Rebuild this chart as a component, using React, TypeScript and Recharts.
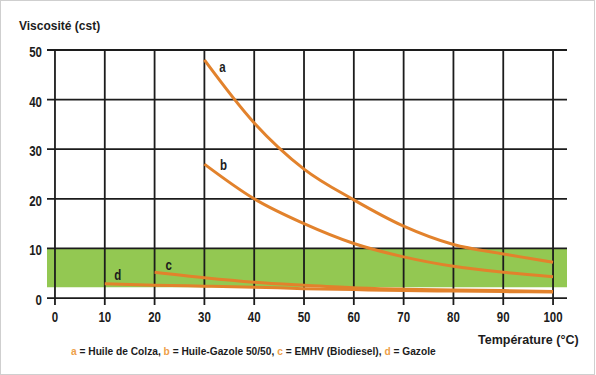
import { LineChart, Line, XAxis, YAxis, ReferenceArea, ReferenceLine } from "recharts"

const temperatures = [10, 20, 30, 40, 50, 60, 70, 80, 90, 100]
const huileColza = [null, null, 48, 35.3, 26, 19.8, 14.5, 10.8, 8.9, 7.2]
const huileGazole = [null, null, 27, 20, 15, 11, 8.3, 6.4, 5.2, 4.3]
const emhv = [null, 5.2, 4.1, 3.2, 2.6, 2.1, 1.8, 1.6, 1.5, 1.3]
const gazole = [2.9, 2.6, 2.4, 2.2, 1.9, 1.7, 1.5, 1.4, 1.3, 1.2]

const xTicks = [0, 10, 20, 30, 40, 50, 60, 70, 80, 90, 100]
const yTicks = [0, 10, 20, 30, 40, 50]
const zoneLow = 2.2
const zoneHigh = 10

const chartData = temperatures.map((t, i) => ({
  t,
  a: huileColza[i],
  b: huileGazole[i],
  c: emhv[i],
  d: gazole[i],
}))

const series = [
  { key: "a", dx: 18, dy: 12 },
  { key: "b", dx: 19, dy: 6 },
  { key: "c", dx: 14, dy: -2 },
  { key: "d", dx: 13, dy: -4 },
]

const SANS = "'Liberation Sans', Arial, sans-serif"
const ORANGE = "#e2822c"
const INK = "#1c1c1c"

function firstIndex(key: string) {
  return chartData.findIndex((row: any) => row[key] != null)
}

// narrow bold text, like the condensed face of the original
function NarrowText({ x, y, anchor, children }: any) {
  return (
    <text
      transform={`translate(${x},${y}) scale(0.82,1)`}
      textAnchor={anchor}
      fontFamily={SANS}
      fontWeight="bold"
      fontSize={14}
      fill={INK}
    >
      {children}
    </text>
  )
}

function XTick(props: any) {
  const { x, y, payload } = props
  return (
    <NarrowText x={x} y={y + 17} anchor="middle">
      {payload.value}
    </NarrowText>
  )
}

function YTick(props: any) {
  const { x, y, payload } = props
  return (
    <NarrowText x={x - 5} y={y + 7} anchor="end">
      {payload.value}
    </NarrowText>
  )
}

export default function App() {
  return (
    <div style={{ position: "absolute", left: 0, top: 0, width: 596, height: 375, background: "#fff" }}>
      <div
        style={{
          position: "absolute",
          left: 0,
          top: 0,
          width: 593,
          height: 373,
          border: "1px solid #cfcfcf",
        }}
      />
      <LineChart width={596} height={375} data={chartData} margin={{ top: 50, right: 29, left: 0, bottom: 40 }}>
        <XAxis
          dataKey="t"
          type="number"
          domain={[-1.6, 102.8]}
          allowDataOverflow
          ticks={xTicks}
          tick={<XTick />}
          tickSize={0}
          tickMargin={0}
          axisLine={false}
          tickLine={false}
          height={30}
        />
        <YAxis
          type="number"
          domain={[-1.4, 50]}
          allowDataOverflow
          ticks={yTicks}
          tick={<YTick />}
          tickSize={0}
          tickMargin={0}
          axisLine={false}
          tickLine={false}
          width={47}
        />
        <ReferenceArea x1={-1.6} x2={102.8} y1={zoneLow} y2={zoneHigh} fill="#93c852" fillOpacity={1} stroke="none" />
        {xTicks.map((v) => (
          <ReferenceLine key={"x" + v} x={v} stroke={INK} strokeWidth={1.8} />
        ))}
        {yTicks.map((v) => (
          <ReferenceLine key={"y" + v} y={v} stroke={INK} strokeWidth={1.8} />
        ))}
        {series.map((s) => {
          const first = firstIndex(s.key)
          return (
            <Line
              key={s.key}
              dataKey={s.key}
              type="monotone"
              stroke={ORANGE}
              strokeWidth={3}
              isAnimationActive={false}
              activeDot={false}
              dot={(p: any) =>
                p.index === first ? (
                  <g key={s.key + "-lbl"}>
                    <NarrowText x={p.cx + s.dx} y={p.cy + s.dy} anchor="middle">
                      {s.key}
                    </NarrowText>
                  </g>
                ) : (
                  <g key={s.key + "-" + p.index} />
                )
              }
            />
          )
        })}
      </LineChart>
      <div
        style={{
          position: "absolute",
          left: 19,
          top: 20,
          fontFamily: SANS,
          fontWeight: "bold",
          fontSize: 12,
          lineHeight: "12px",
          color: INK,
          whiteSpace: "nowrap",
        }}
      >
        Viscosité (cst)
      </div>
      <div
        style={{
          position: "absolute",
          left: 478,
          top: 334,
          fontFamily: SANS,
          fontWeight: "bold",
          fontSize: 12.5,
          lineHeight: "12.5px",
          color: INK,
          whiteSpace: "nowrap",
        }}
      >
        Température (°C)
      </div>
      <div
        style={{
          position: "absolute",
          left: 71,
          top: 347,
          fontFamily: SANS,
          fontWeight: "bold",
          fontSize: 10.2,
          lineHeight: "10px",
          color: INK,
          whiteSpace: "nowrap",
        }}
      >
        <span style={{ color: "#eea04a" }}>a</span> = Huile de Colza, <span style={{ color: "#eea04a" }}>b</span> = Huile-Gazole 50/50,{" "}
        <span style={{ color: "#eea04a" }}>c</span> = EMHV (Biodiesel), <span style={{ color: "#eea04a" }}>d</span> = Gazole
      </div>
    </div>
  )
}
